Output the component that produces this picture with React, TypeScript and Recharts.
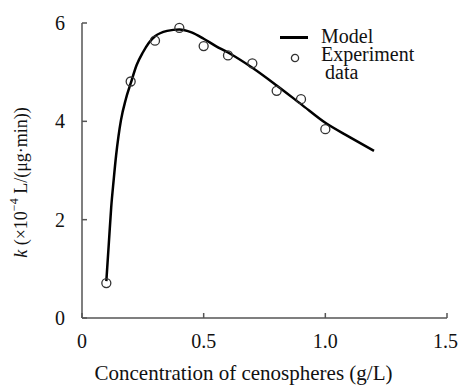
import React from 'react';
import { ComposedChart, Line, Scatter, XAxis, YAxis, Legend, Label } from 'recharts';

// Model curve
const modelX = [0.1, 0.11, 0.12, 0.13, 0.14, 0.15, 0.16, 0.18, 0.2, 0.225, 0.25, 0.275, 0.3, 0.35, 0.4, 0.45, 0.5, 0.55, 0.6, 0.7, 0.8, 0.9, 1.0, 1.1, 1.2];
const modelK = [0.75, 1.5, 2.25, 2.8, 3.3, 3.7, 4.02, 4.45, 4.77, 5.15, 5.4, 5.6, 5.73, 5.84, 5.87, 5.81, 5.68, 5.53, 5.4, 5.09, 4.73, 4.35, 3.97, 3.68, 3.4];

// Experiment data
const expX = [0.1, 0.2, 0.3, 0.4, 0.5, 0.6, 0.7, 0.8, 0.9, 1.0];
const expK = [0.71, 4.81, 5.64, 5.9, 5.53, 5.34, 5.18, 4.62, 4.45, 3.84];

const xTicks = [0, 0.5, 1.0, 1.5];
const xTickLabels = ['0', '0.5', '1.0', '1.5'];
const yTicks = [0, 2, 4, 6];
const yTickLabels = ['0', '2', '4', '6'];

const modelData = modelX.map((x, i) => ({ x, k: modelK[i] }));
const expData = expX.map((x, i) => ({ x, k: expK[i] }));

const FONT = '"Liberation Serif", "Times New Roman", serif';
const AXIS = '#555';
const TEXT = '#111';

const YLabel = (props: any) => {
  const vb = props.viewBox || { x: 0, y: 23, width: 82, height: 295 };
  const cx = vb.x + 21;
  const cy = vb.y + vb.height / 2 + 12;
  return (
    <text
      x={cx}
      y={cy}
      transform={`rotate(-90, ${cx}, ${cy})`}
      textAnchor="middle"
      dominantBaseline="central"
      fontFamily={FONT}
      fontSize={18}
      fill={TEXT}
    >
      <tspan fontStyle="italic">k</tspan>
      <tspan> (×10</tspan>
      <tspan dy={-7} fontSize={12}>−4</tspan>
      <tspan dy={7}> L/(μg·min))</tspan>
    </text>
  );
};

const LegendContent = () => (
  <div style={{ position: 'relative', fontFamily: FONT, fontSize: 20, lineHeight: '17px', color: TEXT }}>
    <div style={{ position: 'absolute', left: 280, top: 36, width: 28, height: 2.5, background: '#000' }} />
    <div style={{ position: 'absolute', left: 321, top: 28, whiteSpace: 'nowrap' }}>Model</div>
    <svg style={{ position: 'absolute', left: 289, top: 52 }} width={12} height={12}>
      <circle cx={6} cy={6} r={3.6} fill="none" stroke="#333" strokeWidth={1.3} />
    </svg>
    <div style={{ position: 'absolute', left: 321, top: 46, whiteSpace: 'nowrap' }}>Experiment</div>
    <div style={{ position: 'absolute', left: 325, top: 64, whiteSpace: 'nowrap' }}>data</div>
  </div>
);

export default function App() {
  return (
    <div style={{ position: 'absolute', left: 0, top: 0, width: 458, height: 385, background: '#fff', fontFamily: FONT }}>
      <ComposedChart
        width={458}
        height={385}
        margin={{ top: 23, right: 11, bottom: 0, left: 0 }}
        style={{ fontFamily: FONT }}
      >
        <XAxis
          xAxisId="bottom"
          dataKey="x"
          type="number"
          domain={[0, 1.5]}
          ticks={xTicks}
          tickFormatter={(v: number) => xTickLabels[xTicks.indexOf(v)] ?? String(v)}
          height={67}
          stroke={AXIS}
          strokeWidth={1.5}
          tickSize={-5}
          tickMargin={21}
          tick={{ fill: TEXT, fontSize: 20, fontFamily: FONT }}
          allowDataOverflow
        >
          <Label
            value="Concentration of cenospheres (g/L)"
            position="insideBottom"
            offset={5}
            dx={-21}
            fontFamily={FONT}
            fontSize={21}
            fill={TEXT}
          />
        </XAxis>
        <XAxis
          xAxisId="top"
          orientation="top"
          dataKey="x"
          type="number"
          domain={[0, 1.5]}
          ticks={xTicks}
          height={0}
          stroke={AXIS}
          strokeWidth={1.5}
          tick={false}
          tickLine={false}
        />
        <YAxis
          yAxisId="left"
          dataKey="k"
          type="number"
          domain={[0, 6]}
          ticks={yTicks}
          tickFormatter={(v: number) => yTickLabels[yTicks.indexOf(v)] ?? String(v)}
          width={82}
          stroke={AXIS}
          strokeWidth={1.5}
          tickSize={-5}
          tickMargin={22}
          tick={{ fill: TEXT, fontSize: 20, fontFamily: FONT }}
        >
          <Label content={<YLabel />} />
        </YAxis>
        <YAxis
          yAxisId="right"
          orientation="right"
          dataKey="k"
          type="number"
          domain={[0, 6]}
          ticks={[2, 4]}
          width={0}
          stroke={AXIS}
          strokeWidth={1.5}
          tickSize={-5}
          tick={false}
        />
        <Legend
          content={<LegendContent />}
          wrapperStyle={{ position: 'absolute', left: 0, top: 0, width: 0, height: 0 }}
        />
        <Line
          xAxisId="bottom"
          yAxisId="left"
          data={modelData}
          dataKey="k"
          type="monotone"
          stroke="#000"
          strokeWidth={2.5}
          dot={false}
          activeDot={false}
          isAnimationActive={false}
          legendType="none"
        />
        <Scatter
          xAxisId="bottom"
          yAxisId="left"
          data={expData}
          dataKey="k"
          fill="none"
          stroke="#333"
          strokeWidth={1.3}
          shape={(p: any) => <circle cx={p.cx} cy={p.cy} r={4.5} fill="none" stroke="#333" strokeWidth={1.3} />}
          isAnimationActive={false}
          legendType="none"
        />
      </ComposedChart>
    </div>
  );
}
